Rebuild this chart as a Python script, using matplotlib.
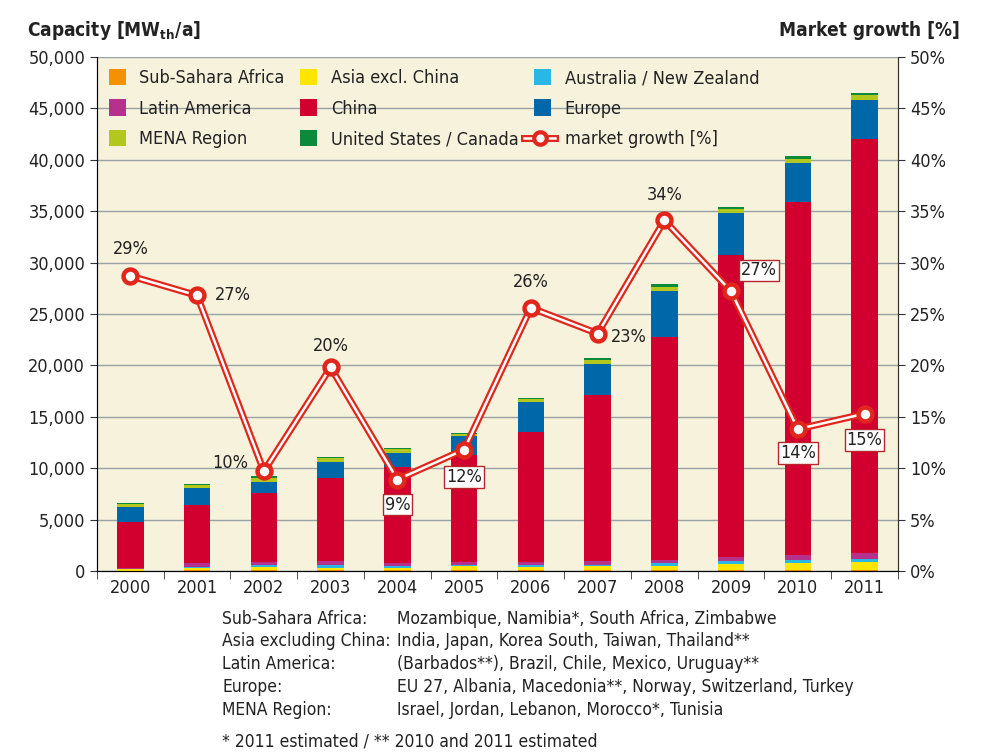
import matplotlib
matplotlib.use("Agg")
import matplotlib.pyplot as plt
import numpy as np
from matplotlib.patches import Patch
from matplotlib.lines import Line2D
from matplotlib.legend_handler import HandlerBase
from matplotlib.ticker import FuncFormatter

# data (MWth per year)
years = ["2000", "2001", "2002", "2003", "2004", "2005",
         "2006", "2007", "2008", "2009", "2010", "2011"]
sub_sahara = [40, 50, 50, 60, 60, 60, 60, 70, 80, 90, 100, 110]
asia_excl_china = [120, 230, 300, 280, 250, 380, 360, 380, 420, 560, 700, 760]
australia_nz = [40, 120, 200, 200, 150, 100, 150, 170, 240, 350, 260, 330]
latin_america = [60, 350, 360, 460, 320, 360, 340, 350, 330, 390, 500, 520]
china = [4510, 5670, 6680, 8050, 9370, 10390, 12640, 16150, 21730, 29360, 34370, 40280]
europe = [1460, 1650, 1100, 1590, 1360, 1850, 2920, 2990, 4440, 4050, 3800, 3830]
mena = [250, 300, 380, 350, 330, 220, 290, 420, 420, 390, 390, 480]
us_canada = [130, 90, 130, 100, 100, 100, 100, 220, 230, 260, 260, 230]

growth = [28.7, 26.8, 9.7, 19.8, 8.9, 11.8, 25.6, 23.1, 34.1, 27.2, 13.8, 15.3]
growth_labels = ["29%", "27%", "10%", "20%", "9%", "12%",
                 "26%", "23%", "34%", "27%", "14%", "15%"]

regions = ["Sub-Sahara Africa:", "Asia excluding China:", "Latin America:",
           "Europe:", "MENA Region:"]
countries = ["Mozambique, Namibia*, South Africa, Zimbabwe",
             "India, Japan, Korea South, Taiwan, Thailand**",
             "(Barbados**), Brazil, Chile, Mexico, Uruguay**",
             "EU 27, Albania, Macedonia**, Norway, Switzerland, Turkey",
             "Israel, Jordan, Lebanon, Morocco*, Tunisia"]

plt.rcParams["font.family"] = "DejaVu Sans"
plt.rcParams["font.stretch"] = "condensed"
txt = "#222222"
red = "#E1261C"
fs = 13

series = [
    ("Sub-Sahara Africa", sub_sahara, "#F39200"),
    ("Asia excl. China", asia_excl_china, "#FFE500"),
    ("Australia / New Zealand", australia_nz, "#29B8E5"),
    ("Latin America", latin_america, "#B5318C"),
    ("China", china, "#D2002E"),
    ("Europe", europe, "#0068A8"),
    ("MENA Region", mena, "#B3C81E"),
    ("United States / Canada", us_canada, "#0C8A3C"),
]


class GrowthHandler(HandlerBase):
    # wider legend handle: double red line with a ring marker
    def create_artists(self, legend, orig_handle, xdescent, ydescent,
                       width, height, fontsize, trans):
        y = height / 2 - ydescent
        x0 = -xdescent - 0.6 * width
        x1 = width - xdescent + 0.25 * width
        xm = (x0 + x1) / 2
        a = Line2D([x0, x1], [y, y], color=red, lw=5, transform=trans)
        b = Line2D([x0, x1], [y, y], color="white", lw=1.8, transform=trans)
        m = Line2D([xm], [y], ls="none", marker="o", ms=9, mfc="white",
                   mec=red, mew=3, transform=trans)
        return [a, b, m]


fig = plt.figure(figsize=(9.85, 7.56), dpi=100)
ax = fig.add_axes([97 / 985, 1 - 571 / 756, 801 / 985, 514 / 756])
ax.set_facecolor("#F6F2DC")

x = np.arange(len(years))
bottom = np.zeros(len(years))
patches = {}
for name, vals, col in series:
    ax.bar(x, vals, width=0.4, bottom=bottom, color=col, zorder=2)
    bottom += np.array(vals)
    patches[name] = Patch(facecolor=col)

ax.set_xlim(-0.5, 11.5)
ax.set_ylim(0, 50000)
ax.set_yticks(range(0, 50001, 5000))
ax.yaxis.set_major_formatter(FuncFormatter(lambda v, p: f"{int(v):,}"))
ax.grid(axis="y", color="#98A3A6", lw=1.0, zorder=0)
ax.set_axisbelow(True)
ax.set_xticks(x)
ax.set_xticklabels(years)
ax.set_xticks(np.arange(-0.5, 12, 1), minor=True)
ax.tick_params(axis="x", which="major", length=0, labelsize=fs, pad=6, labelcolor=txt)
ax.tick_params(axis="x", which="minor", length=6, color="#333333")
ax.tick_params(axis="y", length=5, labelsize=fs, labelcolor=txt, color="#333333")
for s in ["left", "bottom", "right"]:
    ax.spines[s].set_color("#333333")
ax.spines["top"].set_visible(False)

ax2 = ax.twinx()
ax2.set_ylim(0, 50)
ax2.set_yticks(range(0, 51, 5))
ax2.yaxis.set_major_formatter(FuncFormatter(lambda v, p: f"{int(v)}%"))
ax2.tick_params(axis="y", length=5, labelsize=fs, labelcolor=txt, color="#333333")
ax2.spines["top"].set_visible(False)
ax2.spines["right"].set_color("#333333")

ax2.plot(x, growth, color=red, lw=5, zorder=3, solid_joinstyle="miter")
ax2.plot(x, growth, color="white", lw=1.8, zorder=4, solid_joinstyle="miter")
ax2.plot(x, growth, ls="none", marker="o", ms=10, mfc="white", mec=red, mew=3.2, zorder=5)

# label offsets in pixels: (dx, dy, ha, boxed)
offsets = [(0, 27, "center", False), (18, 0, "left", False), (-16, 8, "right", False),
           (0, 21, "center", False), (0, -25, "center", True), (0, -27, "center", True),
           (0, 26, "center", False), (13, -3, "left", False), (0, 25, "center", False),
           (10, 21, "left", True), (0, -24, "center", True), (0, -26, "center", True)]
for xi, g, lab, (dx, dy, ha, boxed) in zip(x, growth, growth_labels, offsets):
    bbox = dict(boxstyle="square,pad=0.1", fc="white", ec="#B8262B", lw=1) if boxed else None
    ax2.annotate(lab, (xi, g), xytext=(dx, dy), textcoords="offset pixels",
                 ha=ha, va="center", fontsize=fs, color=txt, bbox=bbox, zorder=6)

order = ["Sub-Sahara Africa", "Latin America", "MENA Region",
         "Asia excl. China", "China", "United States / Canada",
         "Australia / New Zealand", "Europe"]
growth_handle = Line2D([], [], color=red)
handles = [patches[n] for n in order] + [growth_handle]
labels = order + ["market growth [%]"]
ax2.legend(handles, labels, ncol=3, loc="upper left", bbox_to_anchor=(0.0, 1.0),
           frameon=False, fontsize=fs, handlelength=0.95, handleheight=1.05,
           labelspacing=0.66, columnspacing=0.85, handletextpad=0.75,
           borderaxespad=0.35, borderpad=0.3,
           handler_map={growth_handle: GrowthHandler()}, labelcolor=txt)

fig.text(27 / 985, 1 - 31 / 756, r"Capacity [MW$_\mathbf{th}$/a]", fontsize=13.7,
         weight="bold", color=txt, va="center")
fig.text(960 / 985, 1 - 31 / 756, "Market growth [%]", fontsize=13.7,
         weight="bold", color=txt, va="center", ha="right")

rows_y = [619, 641, 664, 687, 710]
for r, c, yy in zip(regions, countries, rows_y):
    fig.text(222 / 985, 1 - yy / 756, r, fontsize=12.5, color=txt, va="center")
    fig.text(397 / 985, 1 - yy / 756, c, fontsize=12.5, color=txt, va="center")
fig.text(222 / 985, 1 - 741 / 756, "* 2011 estimated / ** 2010 and 2011 estimated",
         fontsize=12.5, color=txt, va="center")

fig.savefig("out.png", dpi=100)
